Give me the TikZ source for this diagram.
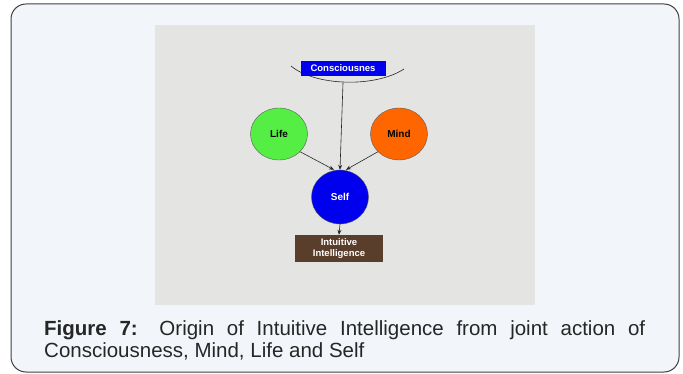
\documentclass[tikz,border=0pt]{standalone}
\usepackage{fontspec}
\setmainfont{Liberation Sans}
\usetikzlibrary{arrows.meta,shapes.geometric}
\definecolor{pagebg}{HTML}{F2F6FA}
\definecolor{panel}{HTML}{E4E4E2}
\definecolor{lifegreen}{HTML}{55EE44}
\definecolor{mindorange}{HTML}{FF6600}
\definecolor{selfblue}{HTML}{0000EE}
\definecolor{brownbox}{HTML}{5A3E2C}
\tikzset{
  bubble/.style={ellipse, draw=gray!70!black, line width=0.4pt, minimum width=57pt, minimum height=52pt, inner sep=0pt, font=\fontsize{10}{12}\selectfont\bfseries},
  link/.style={draw=black!85, line width=0.6pt, -{Stealth[length=5pt,width=4pt]}},
}
\begin{document}
\begin{tikzpicture}[x=1pt,y=-1pt]
\useasboundingbox (0,0) rectangle (683,374);
\draw[fill=pagebg, draw=black!75, line width=1pt, rounded corners=15pt] (11,4) rectangle (679,372);
\fill[panel] (155,25) rectangle (535,305);
% consciousness arc
\draw[black!85, line width=0.6pt] (291,66) .. controls (315,86) and (375,88) .. (404,69);
\node[fill=selfblue, text=white, font=\fontsize{9.5}{11}\selectfont\bfseries, minimum width=85pt, minimum height=15pt, inner sep=0pt] (cons) at (343,68.5) {Consciousnes};
\coordinate (arcbot) at (343,83);
\node[bubble, fill=lifegreen] (life) at (279,134) {Life};
\node[bubble, fill=mindorange] (mind) at (399,134) {Mind};
\node[bubble, fill=selfblue, text=white, minimum width=57pt, minimum height=54pt] (self) at (340,197) {Self};
\node[fill=brownbox, text=white, font=\fontsize{9.5}{10.5}\selectfont\bfseries, minimum width=88pt, minimum height=27pt, inner sep=0pt, align=center] (intu) at (339,248.5) {Intuitive\\Intelligence};
\draw[link] (arcbot) -- (self.north);
\draw[link] (life.-40) -- ([xshift=-6pt]self.north);
\draw[link] (mind.-140) -- ([xshift=6pt]self.north);
\draw[link] (self.south) -- (intu.north);
\node[anchor=north west, text width=601pt, align=justify, inner sep=0pt, font=\fontsize{20.5}{22.5}\selectfont, text=black!85] (cap) at (44,320) {\textbf{Figure 7:} Origin of Intuitive Intelligence from joint action of\linebreak Consciousness, Mind, Life and Self};
\end{tikzpicture}
\end{document}
